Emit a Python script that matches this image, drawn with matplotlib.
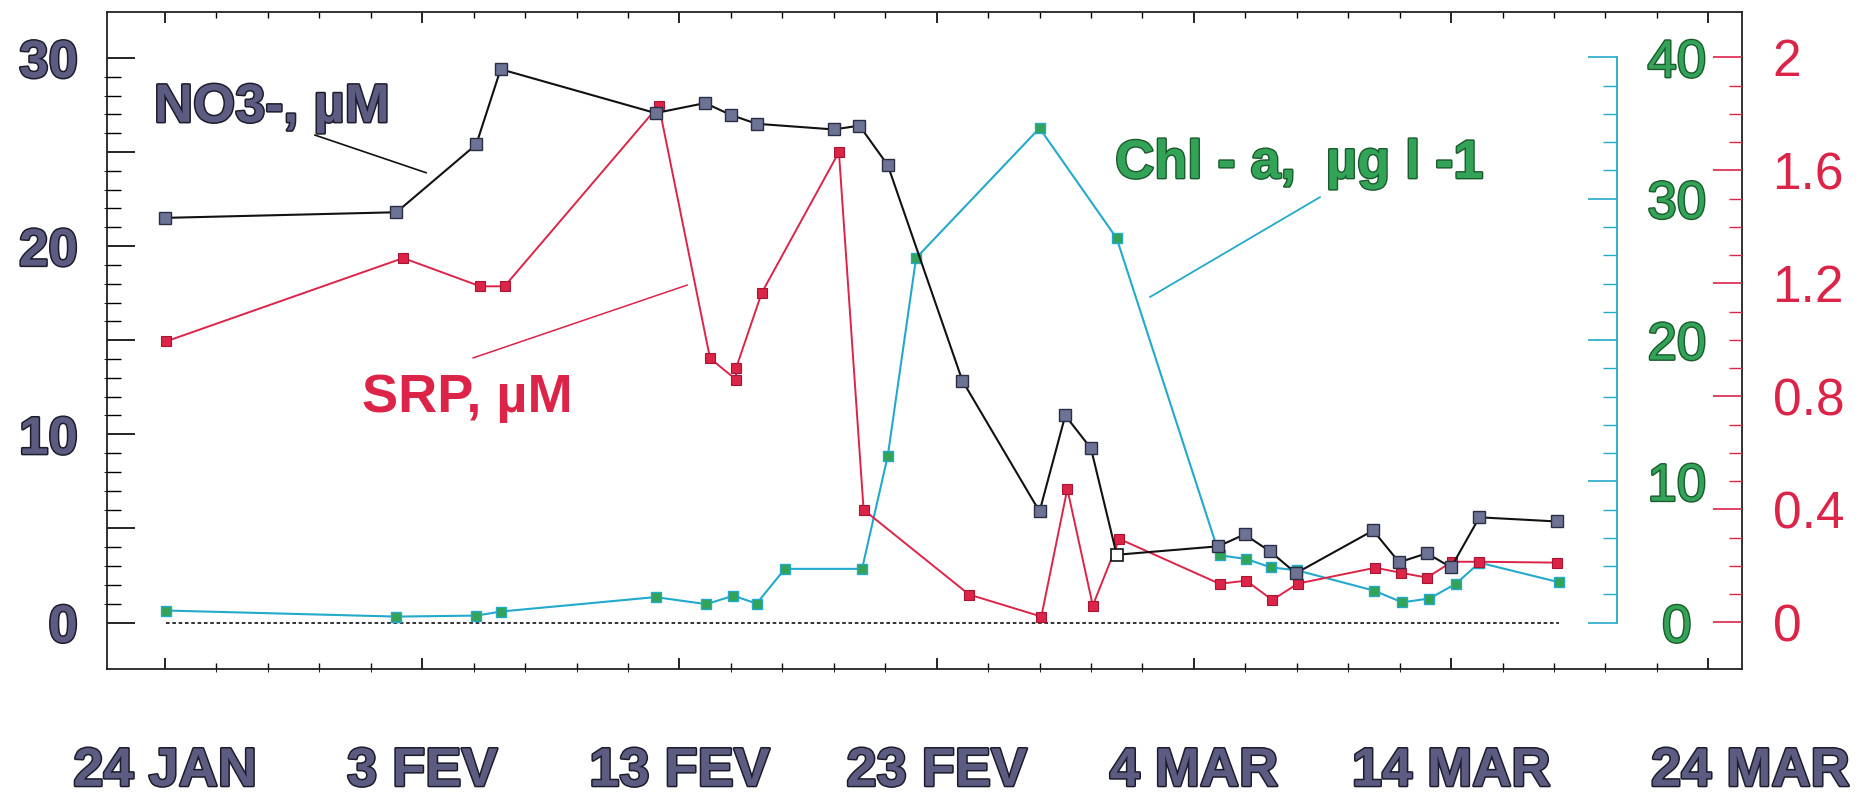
import numpy as np
import matplotlib
matplotlib.use('Agg')
import matplotlib.pyplot as plt
import matplotlib.patheffects as pe
from matplotlib.ticker import FixedLocator
from matplotlib.transforms import ScaledTranslation

# ---- data (days since 24 JAN) ----
no3_days = [0.0, 9.0, 12.1, 13.05, 19.07, 21.0, 22.0, 23.0, 26.0, 27.0, 28.1, 31.0, 34.0,
            35.0, 36.0, 37.0, 40.95, 41.97, 42.96, 43.97, 46.97, 47.98, 49.06, 50.0, 51.1, 54.1]
no3_vals = [21.5, 21.8, 25.4, 29.4, 27.07, 27.6, 26.97, 26.5, 26.2, 26.4, 24.3, 12.85, 5.9,
            11.0, 9.25, 3.6, 4.05, 4.68, 3.78, 2.62, 4.89, 3.2, 3.68, 2.93, 5.59, 5.37]
no3_hollow = 15   # index of the open square

srp_days = [0.04, 9.26, 12.26, 13.2, 19.2, 21.19, 22.2, 22.2, 23.2, 26.2, 27.16, 31.26, 34.07,
            35.08, 36.07, 37.1, 41.0, 42.03, 43.05, 44.05, 47.06, 48.04, 49.06, 50.04, 51.1, 54.1]
srp_vals = [0.995, 1.29, 1.19, 1.19, 1.83, 0.935, 0.86, 0.90, 1.167, 1.665, 0.399, 0.099, 0.021,
            0.473, 0.06, 0.296, 0.137, 0.148, 0.08, 0.138, 0.194, 0.176, 0.159, 0.215, 0.215, 0.212]

chl_days = [0.04, 9.0, 12.1, 13.07, 19.07, 21.05, 22.1, 23.0, 24.1, 27.1, 28.1, 29.2, 34.0,
            37.0, 41.0, 42.03, 43.0, 44.0, 47.0, 48.1, 49.16, 50.2, 51.1, 54.2]
chl_vals = [0.85, 0.42, 0.49, 0.78, 1.8, 1.3, 1.9, 1.34, 3.8, 3.8, 11.8, 25.8, 35.0,
            27.2, 4.76, 4.5, 3.9, 3.7, 2.26, 1.43, 1.7, 2.76, 4.24, 2.85]

xtick_days = [0, 10, 20, 30, 40, 50, 60]
xtick_labels = ['24 JAN', '3 FEV', '13 FEV', '23 FEV', '4 MAR', '14 MAR', '24 MAR']
no3_ticks = [0, 5, 10, 15, 20, 25, 30]
no3_labels = ['0', '', '10', '', '20', '', '30']
chl_ticks = [0, 10, 20, 30, 40]
chl_labels = ['0', '10', '20', '30', '40']
srp_ticks = [0, 0.4, 0.8, 1.2, 1.6, 2.0]
srp_labels = ['0', '0.4', '0.8', '1.2', '1.6', '2']

# ---- styling ----
plt.rcParams['font.family'] = ['Liberation Sans', 'DejaVu Sans']
SLATE, SLATE_EDGE = '#5c5c82', '#1c1c2a'
RED = '#dc2448'
CYAN = '#22a9cc'
GREEN, GREEN_EDGE = '#33a457', '#1a5a2c'
dark_outline = [pe.Stroke(linewidth=2.2, foreground=SLATE_EDGE), pe.Normal()]
green_outline = [pe.Stroke(linewidth=2.0, foreground=GREEN_EDGE), pe.Normal()]

W, H = 1863, 799
fig = plt.figure(figsize=(W / 100, H / 100), dpi=100)
ax = fig.add_axes([107 / W, 1 - 669 / H, (1742 - 107) / W, (669 - 12) / H])
ax_chl = ax.twinx()
ax_srp = ax.twinx()

ax.set_xlim(-2.255, 61.31)
ax.set_ylim(-2.47, 32.44)
ax_chl.set_ylim(-3.29, 43.22)
ax_srp.set_ylim(-0.1646, 2.161)

for s in ax.spines.values():
    s.set_linewidth(1.3)
    s.set_color('#222222')
for s in ax_srp.spines.values():
    s.set_visible(False)
for k in ('left', 'top', 'bottom'):
    ax_chl.spines[k].set_visible(False)

# x axis (dates)
ax.set_xticks(xtick_days)
ax.set_xticklabels(xtick_labels)
ax.xaxis.set_minor_locator(FixedLocator(np.arange(0, 61, 2)))
ax.tick_params(axis='x', which='major', direction='in', top=True, length=8, width=1.2,
               pad=56, labelsize=39, labelcolor=SLATE)
ax.tick_params(axis='x', which='minor', direction='in', top=True, length=4.5, width=1.0)
for lab in ax.get_xticklabels():
    lab.set_fontweight('bold')
    lab.set_path_effects(dark_outline)
last = ax.get_xticklabels()[-1]
last.set_transform(last.get_transform() + ScaledTranslation(0.42, 0, fig.dpi_scale_trans))

# left axis (NO3)
ax.set_yticks(no3_ticks)
ax.set_yticklabels(no3_labels)
ax.yaxis.set_minor_locator(FixedLocator(np.arange(0, 31, 1)))
ax.tick_params(axis='y', which='major', direction='in', right=False, length=20, width=1.2,
               pad=21, labelsize=38, labelcolor=SLATE)
ax.tick_params(axis='y', which='minor', direction='in', right=False, length=10, width=1.0)
for lab in ax.get_yticklabels():
    lab.set_fontweight('bold')
    lab.set_path_effects(dark_outline)

# Chl axis: offset spine inside the frame
ax_chl.spines['right'].set_position(('axes', (1617 - 107) / (1742 - 107)))
ax_chl.spines['right'].set_bounds(0, 40)
ax_chl.spines['right'].set_color(CYAN)
ax_chl.spines['right'].set_linewidth(1.3)
ax_chl.set_yticks(chl_ticks)
ax_chl.set_yticklabels(chl_labels)
ax_chl.yaxis.set_minor_locator(FixedLocator(np.arange(0, 41, 2)))
ax_chl.tick_params(axis='y', which='major', direction='in', length=21, width=1.2,
                   color=CYAN, pad=43, labelsize=38, labelcolor=GREEN)
ax_chl.tick_params(axis='y', which='minor', direction='in', length=10, width=1.0, color=CYAN)
for lab in ax_chl.get_yticklabels():
    lab.set_horizontalalignment('center')
    lab.set_path_effects(green_outline)

# SRP axis on the frame
ax_srp.set_yticks(srp_ticks)
ax_srp.set_yticklabels(srp_labels)
ax_srp.yaxis.set_minor_locator(FixedLocator(np.arange(0, 2.01, 0.1)))
ax_srp.tick_params(axis='y', which='major', direction='in', length=21, width=1.2,
                   color=RED, pad=22, labelsize=37, labelcolor=RED)
ax_srp.tick_params(axis='y', which='minor', direction='in', length=9.5, width=1.0, color=RED)

# ---- series ----
ax.hlines(0, chl_days[0], chl_days[-1], colors='#222222', linestyles=(0, (2, 1.5)), lw=1.3, zorder=2)

ax_chl.plot(chl_days, chl_vals, color=CYAN, lw=1.5, marker='s', ms=7.5,
            mfc=GREEN, mec=CYAN, mew=1.0, zorder=3)
ax_srp.plot(srp_days, srp_vals, color=RED, lw=1.4, marker='s', ms=7.5,
            mfc=RED, mec='#a81533', mew=0.8, zorder=3)

# NO3 on an overlay axes so it is drawn above the twin axes
ax_top = fig.add_axes(ax.get_position(), sharex=ax, sharey=ax, frameon=False)
ax_top.patch.set_visible(False)
ax_top.tick_params(left=False, bottom=False, labelleft=False, labelbottom=False)
ax_top.plot(no3_days, no3_vals, color='#111111', lw=1.5, zorder=4)
mk = [i for i in range(len(no3_days)) if i != no3_hollow]
ax_top.plot([no3_days[i] for i in mk], [no3_vals[i] for i in mk], ls='none', marker='s', ms=8,
            mfc='#6c7395', mec='#2a2d44', mew=1.0, zorder=5)
ax_top.plot([no3_days[no3_hollow]], [no3_vals[no3_hollow]], ls='none', marker='s', ms=8,
            mfc='white', mec='#111111', mew=1.2, zorder=5)

# ---- annotations ----
ax_top.text(-0.43, 26.6, 'NO3-, µM', fontsize=39, fontweight='bold', color=SLATE,
            ha='left', va='baseline', path_effects=dark_outline)
ax_top.plot([5.83, 10.15], [25.9, 23.9], color='#111111', lw=1.2)
ax_top.text(7.64, 11.18, 'SRP, µM', fontsize=39, fontweight='bold', color=RED,
            ha='left', va='baseline')
ax_top.plot([11.98, 20.3], [14.06, 17.93], color=RED, lw=1.1)
ax_top.text(36.94, 23.62, 'Chl - a,  µg l -1', fontsize=39, fontweight='bold', color=GREEN,
            ha='left', va='baseline', path_effects=green_outline)
ax_top.plot([38.3, 44.9], [17.3, 22.6], color=CYAN, lw=1.3)

fig.savefig('out.png', dpi=100)
